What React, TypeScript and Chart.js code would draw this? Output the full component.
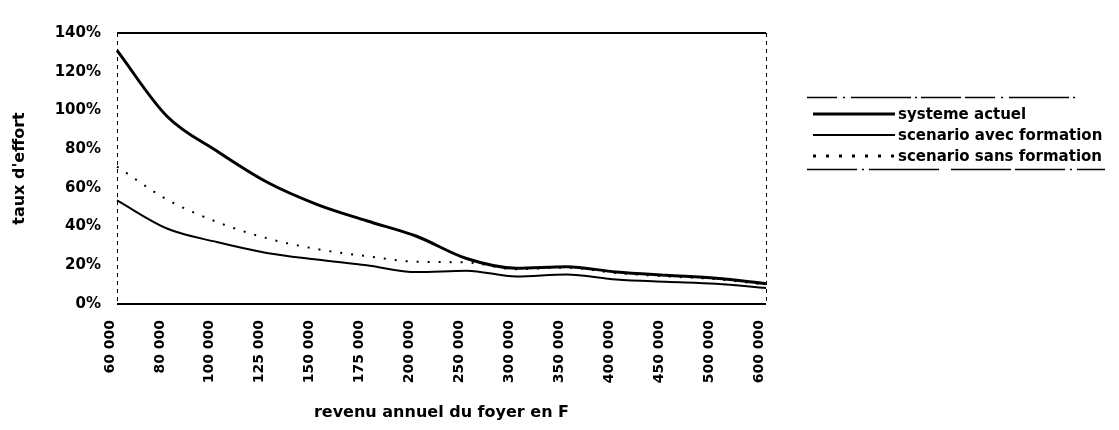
import React, { useEffect, useRef } from "react";
import { Chart, registerables } from "chart.js";

Chart.register(...registerables);

const categories = [
  "60 000", "80 000", "100 000", "125 000", "150 000", "175 000", "200 000",
  "250 000", "300 000", "350 000", "400 000", "450 000", "500 000", "600 000",
];
const systemeActuel = [131, 97, 79, 63, 51.5, 43, 35, 23.5, 18.5, 19.3, 16.5, 14.8, 13.3, 10.5];
const avecFormation = [53.5, 39, 32, 26.4, 23, 20, 16.5, 17.2, 14.2, 15.2, 12.7, 11.5, 10.5, 8.3];
const sansFormation = [71, 54, 42.4, 34, 28.4, 24.7, 21.8, 21.5, 18, 18.8, 16, 14.3, 12.8, 10];
const yTicks = [0, 20, 40, 60, 80, 100, 120, 140];

const seriesNames = ["systeme actuel", "scenario avec formation", "scenario sans formation"];

const FONT = "'DejaVu Sans', sans-serif";

export default function App() {
  const ref = useRef<HTMLCanvasElement | null>(null);

  useEffect(() => {
    if (!ref.current) return;
    const chart = new Chart(ref.current, {
      type: "line",
      data: {
        labels: categories,
        datasets: [
          {
            label: seriesNames[0],
            data: systemeActuel,
            borderColor: "#000",
            borderWidth: 3,
            pointRadius: 0,
            cubicInterpolationMode: "monotone",
            fill: false,
          },
          {
            label: seriesNames[1],
            data: avecFormation,
            borderColor: "#000",
            borderWidth: 2,
            pointRadius: 0,
            cubicInterpolationMode: "monotone",
            fill: false,
          },
          {
            label: seriesNames[2],
            data: sansFormation,
            borderColor: "#000",
            borderWidth: 2,
            borderDash: [2, 9],
            pointRadius: 0,
            cubicInterpolationMode: "monotone",
            fill: false,
          },
        ],
      },
      options: {
        animation: false,
        responsive: false,
        maintainAspectRatio: false,
        layout: { padding: { top: 13, right: 345, bottom: 0, left: 0 } },
        plugins: {
          legend: { display: false },
          tooltip: { enabled: false },
        },
        scales: {
          x: {
            type: "category",
            offset: false,
            border: { display: false, dash: [4, 4] },
            grid: {
              drawTicks: false,
              lineWidth: 1,
              color: (c: any) =>
                c.index === 0 || c.index === categories.length - 1 ? "#000" : "rgba(0,0,0,0)",
            },
            ticks: {
              autoSkip: false,
              maxRotation: 90,
              minRotation: 90,
              padding: 16,
              labelOffset: -7,
              color: "#000",
              font: { family: FONT, size: 14, weight: "bold" },
            },
            title: {
              display: true,
              text: "revenu annuel du foyer en F",
              color: "#000",
              padding: { top: 4, bottom: 0 },
              font: { family: FONT, size: 16, weight: "bold" },
            },
            afterFit: (s: any) => {
              s.height = 118;
            },
          },
          y: {
            min: 0,
            max: 140,
            border: { display: false },
            afterBuildTicks: (s: any) => {
              s.ticks = yTicks.map((v) => ({ value: v }));
            },
            grid: {
              drawTicks: false,
              lineWidth: 2,
              color: (c: any) =>
                c.tick && (c.tick.value === 0 || c.tick.value === 140) ? "#000" : "rgba(0,0,0,0)",
            },
            ticks: {
              padding: 16,
              color: "#000",
              font: { family: FONT, size: 15, weight: "bold" },
              callback: (v: any) => v + "%",
            },
            title: {
              display: true,
              text: "taux d'effort",
              color: "#000",
              padding: { top: 2, bottom: 0 },
              font: { family: FONT, size: 16, weight: "bold" },
            },
            afterFit: (s: any) => {
              s.width = 109;
            },
          },
        },
      },
    });
    return () => chart.destroy();
  }, []);

  const legendRows = [
    { name: seriesNames[0], width: 3, dash: "" },
    { name: seriesNames[1], width: 2, dash: "" },
    { name: seriesNames[2], width: 3, dash: "3 10" },
  ];

  return (
    <div style={{ position: "relative", width: 1103, height: 414 }}>
      <canvas ref={ref} width={1103} height={414} style={{ display: "block" }} />
      <div
        style={{
          position: "absolute",
          left: 799,
          top: 88,
          width: 300,
          fontFamily: FONT,
          fontWeight: "bold",
          fontSize: 15,
          color: "#000",
        }}
      >
        <svg width={300} height={3} style={{ display: "block" }}>
          <line x1={0} y1={1.5} x2={270} y2={1.5} stroke="#000" strokeWidth={1.5} strokeDasharray="30 6 2 6 60 4 2 4 40 4" />
        </svg>
        <div style={{ height: 4 }} />
        {legendRows.map((r) => (
          <div key={r.name} style={{ display: "flex", alignItems: "center", height: 21, whiteSpace: "nowrap" }}>
            <svg width={84} height={6} style={{ display: "block", marginLeft: 6 }}>
              <line
                x1={0}
                y1={3}
                x2={82}
                y2={3}
                stroke="#000"
                strokeWidth={r.width}
                strokeDasharray={r.dash || undefined}
              />
            </svg>
            <span style={{ marginLeft: 1 }}>{r.name}</span>
          </div>
        ))}
        <div style={{ height: 2 }} />
        <svg width={300} height={3} style={{ display: "block" }}>
          <line x1={0} y1={1.5} x2={298} y2={1.5} stroke="#000" strokeWidth={1.5} strokeDasharray="50 5 2 5 70 12 60 4" />
        </svg>
      </div>
    </div>
  );
}
